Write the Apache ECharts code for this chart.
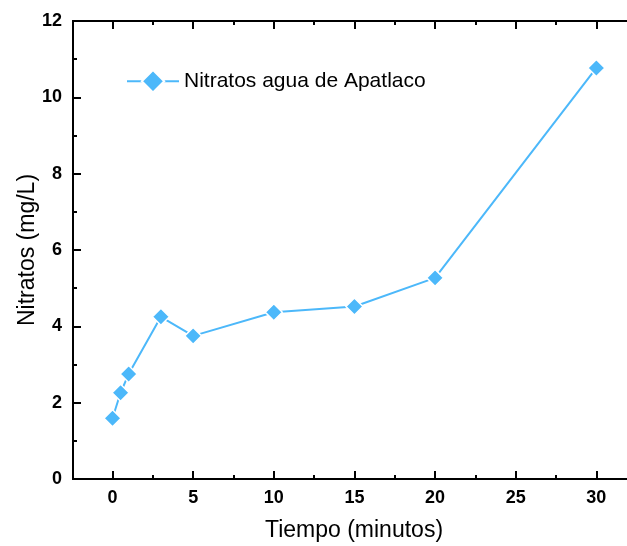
<!DOCTYPE html>
<html>
<head>
<meta charset="utf-8">
<script src="https://cdn.jsdelivr.net/npm/echarts@6/dist/echarts.min.js"></script>
<style>html,body{margin:0;padding:0;background:#fff}#c{width:627px;height:546px}</style>
</head>
<body>
<div id="c"></div>
<script>
const times = [0, 0.5, 1, 3, 5, 10, 15, 20, 30];
const nitrates = [1.59, 2.26, 2.75, 4.25, 3.75, 4.37, 4.52, 5.27, 10.77];
const xMajor = [0, 5, 10, 15, 20, 25, 30];
const xMinor = [2.5, 7.5, 12.5, 17.5, 22.5, 27.5];
const seriesName = 'Nitratos agua de Apatlaco';
const xName = 'Tiempo (minutos)';
const yName = 'Nitratos (mg/L)';

const FONT = "'Liberation Sans', Arial, sans-serif";
const COLOR = '#4cb8fa';
const lineStyle = {color: '#000', width: 2};

function xAx(pos, ticks, len, labels, extra) {
  return Object.assign({
    type: 'value', position: pos, min: -2.45, max: 31.9,
    axisLine: {show: true, onZero: false, lineStyle: lineStyle},
    axisTick: {show: true, inside: true, length: len, lineStyle: {color: '#000', width: 2}, customValues: ticks},
    axisLabel: labels ? {show: true, customValues: ticks, margin: 10, color: '#000', fontWeight: 'bold', fontSize: 18, fontFamily: FONT} : {show: false},
    splitLine: {show: false}
  }, extra || {});
}

const chart = echarts.init(document.getElementById('c'));
chart.setOption({
  animation: false,
  backgroundColor: '#fff',
  grid: {left: 73, right: 0, top: 21, bottom: 67, containLabel: false, outerBoundsMode: 'none'},
  legend: {
    left: 121, top: 64, itemWidth: 52, itemHeight: 28, itemGap: 5,
    textStyle: {fontSize: 21, color: '#000', fontFamily: FONT},
    data: [seriesName]
  },
  xAxis: [
    xAx('bottom', xMajor, 8, true, {
      name: xName, nameLocation: 'middle', nameGap: 40, nameMoveOverlap: false,
      nameTextStyle: {fontSize: 23, color: '#000', fontFamily: FONT, padding: [0, 0, 0, 8]}
    }),
    xAx('bottom', xMinor, 4, false),
    xAx('top', xMajor, 8, false),
    xAx('top', xMinor, 4, false)
  ],
  yAxis: {
    type: 'value', min: 0, max: 12, interval: 2,
    name: yName, nameLocation: 'middle', nameGap: 34, nameMoveOverlap: false,
    nameTextStyle: {fontSize: 23, color: '#000', fontFamily: FONT},
    axisLine: {show: true, onZero: false, lineStyle: lineStyle},
    axisTick: {show: true, inside: true, length: 8, lineStyle: {color: '#000', width: 2}},
    minorTick: {show: true, splitNumber: 2, length: 4, lineStyle: {color: '#000', width: 2}},
    axisLabel: {margin: 11, color: '#000', fontWeight: 'bold', fontSize: 18, fontFamily: FONT},
    splitLine: {show: false}
  },
  series: [{
    name: seriesName, type: 'line', xAxisIndex: 0,
    data: times.map((t, i) => [t, nitrates[i]]),
    symbol: 'diamond', symbolSize: 17,
    lineStyle: {color: COLOR, width: 2},
    itemStyle: {color: COLOR, borderColor: '#fff', borderWidth: 1.5}
  }]
});
</script>
</body>
</html>
